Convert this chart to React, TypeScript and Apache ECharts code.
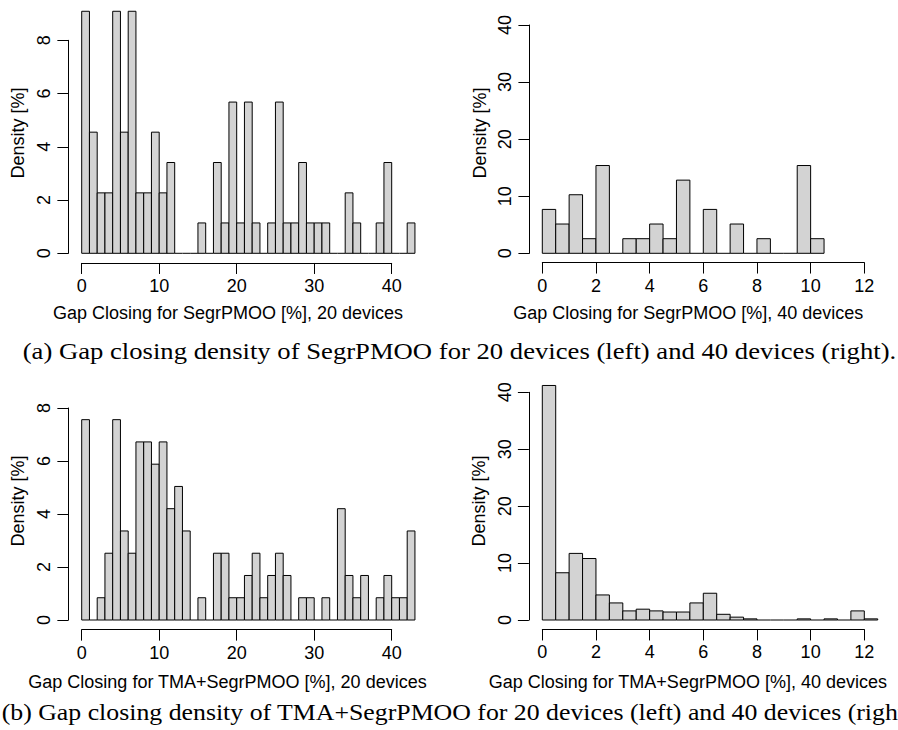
import React, { useEffect, useRef } from "react";
import * as echarts from "echarts";

// ---- data (density in %, histogram bins) ----
const binWidth20 = 1;
const binWidth40 = 0.5;
const segr20 = [9.09, 4.55, 2.27, 2.27, 9.09, 4.55, 9.09, 2.27, 2.27, 4.55, 2.27, 3.41, 0, 0, 0, 1.14, 0, 3.41, 1.14, 5.68, 1.14, 5.68, 1.14, 0, 1.14, 5.68, 1.14, 1.14, 3.41, 1.14, 1.14, 1.14, 0, 0, 2.27, 1.14, 0, 0, 1.14, 3.41, 0, 0, 1.14];
const segr40 = [7.69, 5.13, 10.26, 2.56, 15.38, 0, 2.56, 2.56, 5.13, 2.56, 12.82, 0, 7.69, 0, 5.13, 0, 2.56, 0, 0, 15.38, 2.56];
const tma20 = [7.56, 0, 0.84, 2.52, 7.56, 3.36, 2.52, 6.72, 6.72, 5.88, 6.72, 4.2, 5.04, 3.36, 0, 0.84, 0, 2.52, 2.52, 0.84, 0.84, 1.68, 2.52, 0.84, 1.68, 2.52, 1.68, 0, 0.84, 0.84, 0, 0.84, 0, 4.2, 1.68, 0.84, 1.68, 0, 0.84, 1.68, 0.84, 0.84, 3.36];
const tma40 = [41.2, 8.3, 11.7, 10.8, 4.4, 3.0, 1.6, 1.9, 1.6, 1.4, 1.4, 3.0, 4.7, 1.0, 0.5, 0.2, 0, 0, 0, 0.2, 0, 0.2, 0, 1.6, 0.2];

const xTickMax20 = 40;
const xTickStep20 = 10;
const xTickMax40 = 12;
const xTickStep40 = 2;
const yTickMax20 = 8;
const yTickStep20 = 2;
const yTickMax40 = 40;
const yTickStep40 = 10;

const xlabSegr20 = "Gap Closing for SegrPMOO [%], 20 devices";
const xlabSegr40 = "Gap Closing for SegrPMOO [%], 40 devices";
const xlabTma20 = "Gap Closing for TMA+SegrPMOO [%], 20 devices";
const xlabTma40 = "Gap Closing for TMA+SegrPMOO [%], 40 devices";
const ylab = "Density [%]";
const captionA = "(a) Gap closing density of SegrPMOO for 20 devices (left) and 40 devices (right).";
const captionB = "(b) Gap closing density of TMA+SegrPMOO for 20 devices (left) and 40 devices (right).";

const SANS = "'Liberation Sans', Arial, Helvetica, sans-serif";
const SERIF = "'Liberation Serif', 'Times New Roman', serif";

type Panel = {
  dens: number[];
  bw: number;
  xT: number; xStep: number; yT: number; yStep: number;
  px0: number; pxT: number; py0: number; pyT: number;
  xmin: number; xmax: number; ymin: number; ymax: number;
  xlab: string; xlabX: number; xlabY: number; ylabX: number; ylabY: number;
};

const panels: Panel[] = [
  { dens: segr20, bw: binWidth20, xT: xTickMax20, xStep: xTickStep20, yT: yTickMax20, yStep: yTickStep20,
    px0: 81.7, pxT: 391.7, py0: 253.3, pyT: 40.3, xmin: -1.72, xmax: 44.72, ymin: -0.3636, ymax: 9.4545,
    xlab: xlabSegr20, xlabX: 228, xlabY: 313, ylabX: 18.3, ylabY: 133 },
  { dens: segr40, bw: binWidth40, xT: xTickMax40, xStep: xTickStep40, yT: yTickMax40, yStep: yTickStep40,
    px0: 542.3, pxT: 864.3, py0: 253.3, pyT: 25, xmin: -0.48, xmax: 12.48, ymin: -1.62, ymax: 43.4,
    xlab: xlabSegr40, xlabX: 688.3, xlabY: 313, ylabX: 480, ylabY: 133 },
  { dens: tma20, bw: binWidth20, xT: xTickMax20, xStep: xTickStep20, yT: yTickMax20, yStep: yTickStep20,
    px0: 81.7, pxT: 391.7, py0: 620, pyT: 408, xmin: -1.72, xmax: 44.72, ymin: -0.3636, ymax: 9.4545,
    xlab: xlabTma20, xlabX: 227.5, xlabY: 681.7, ylabX: 18.3, ylabY: 501 },
  { dens: tma40, bw: binWidth40, xT: xTickMax40, xStep: xTickStep40, yT: yTickMax40, yStep: yTickStep40,
    px0: 542.3, pxT: 864.3, py0: 620, pyT: 392.3, xmin: -0.5, xmax: 13.0, ymin: -1.66, ymax: 43.4,
    xlab: xlabTma40, xlabX: 687.8, xlabY: 681.7, ylabX: 479.3, ylabY: 501 },
];

function buildOption() {
  const grid: any[] = [];
  const xAxis: any[] = [];
  const yAxis: any[] = [];
  const series: any[] = [];
  const graphic: any[] = [];

  const axisCommon = {
    axisLine: { show: true, onZero: false, lineStyle: { color: "#000", width: 1 } },
    axisTick: { show: true, length: 11, inside: false, lineStyle: { color: "#000", width: 1 } },
    splitLine: { show: false },
  };
  const hidden = { show: false, axisLine: { show: false, onZero: false } };
  const labelCommon = { color: "#000", fontSize: 18, fontFamily: SANS, showMinLabel: true, showMaxLabel: true };
  const gridCommon = { containLabel: false, outerBoundsMode: "none" };

  panels.forEach((p) => {
    const sx = (p.pxT - p.px0) / p.xT;
    const sy = (p.py0 - p.pyT) / p.yT;
    const left = p.px0 + p.xmin * sx;
    const right = p.px0 + p.xmax * sx;
    const top = p.py0 - p.ymax * sy;
    const bottom = p.py0 - p.ymin * sy;
    const g0 = grid.length;
    // plot region
    grid.push({ ...gridCommon, left, top, width: right - left, height: bottom - top });
    // x-axis carrier (spans 0..xT)
    grid.push({ ...gridCommon, left: p.px0, top, width: p.pxT - p.px0, height: bottom - top });
    // y-axis carrier (spans 0..yT)
    grid.push({ ...gridCommon, left, top: p.pyT, width: right - left, height: p.py0 - p.pyT });

    const xa0 = xAxis.length;
    xAxis.push({ type: "value", gridIndex: g0, min: p.xmin, max: p.xmax, ...hidden });
    xAxis.push({
      type: "value", gridIndex: g0 + 1, min: 0, max: p.xT, interval: p.xStep, position: "bottom",
      ...axisCommon, axisLabel: { ...labelCommon, margin: 14 },
    });
    xAxis.push({ type: "value", gridIndex: g0 + 2, min: 0, max: 1, ...hidden });

    const ya0 = yAxis.length;
    yAxis.push({ type: "value", gridIndex: g0, min: p.ymin, max: p.ymax, ...hidden });
    yAxis.push({ type: "value", gridIndex: g0 + 1, min: 0, max: 1, ...hidden });
    yAxis.push({
      type: "value", gridIndex: g0 + 2, min: 0, max: p.yT, interval: p.yStep, position: "left",
      ...axisCommon, axisLabel: { ...labelCommon, rotate: 90, margin: 15 },
    });

    const data = p.dens.map((d, k) => [k * p.bw, (k + 1) * p.bw, d]);
    series.push({
      type: "custom",
      xAxisIndex: xa0,
      yAxisIndex: ya0,
      data,
      silent: true,
      clip: false,
      encode: { x: [0, 1], y: 2 },
      renderItem: (_params: any, api: any) => {
        const x0 = api.value(0);
        const x1 = api.value(1);
        const h = api.value(2);
        const a = api.coord([x0, 0]);
        const b = api.coord([x1, h]);
        if (h === 0) {
          return {
            type: "line",
            shape: { x1: a[0], y1: a[1], x2: b[0], y2: a[1] },
            style: { stroke: "#000", lineWidth: 1 },
          };
        }
        return {
          type: "rect",
          shape: { x: a[0], y: b[1], width: b[0] - a[0], height: a[1] - b[1] },
          style: { fill: "#D3D3D3", stroke: "#000", lineWidth: 1 },
        };
      },
    });

    graphic.push({
      type: "text", x: p.xlabX, y: p.xlabY,
      style: { text: p.xlab, fill: "#000", font: `18px ${SANS}`, textAlign: "center", textVerticalAlign: "middle" },
    });
    graphic.push({
      type: "text", x: p.ylabX, y: p.ylabY, rotation: Math.PI / 2,
      style: { text: ylab, fill: "#000", font: `18px ${SANS}`, textAlign: "center", textVerticalAlign: "middle" },
    });
  });

  graphic.push({
    type: "text", x: 22.7, y: 350, scaleX: 1.111,
    style: { text: captionA, fill: "#000", font: `24px ${SERIF}`, textAlign: "left", textVerticalAlign: "middle" },
  });
  graphic.push({
    type: "text", x: 1.7, y: 712, scaleX: 1.076,
    style: { text: captionB, fill: "#000", font: `24px ${SERIF}`, textAlign: "left", textVerticalAlign: "middle" },
  });

  return {
    animation: false,
    backgroundColor: "#fff",
    grid,
    xAxis,
    yAxis,
    series,
    graphic,
  };
}

export default function App() {
  const ref = useRef<HTMLDivElement>(null);
  useEffect(() => {
    if (!ref.current) return;
    const chart = echarts.init(ref.current, undefined, { renderer: "svg" });
    chart.setOption(buildOption() as any);
    return () => chart.dispose();
  }, []);
  return (
    <div
      ref={ref}
      style={{ position: "fixed", left: 0, top: 0, width: 898, height: 730, background: "#fff" }}
    />
  );
}
